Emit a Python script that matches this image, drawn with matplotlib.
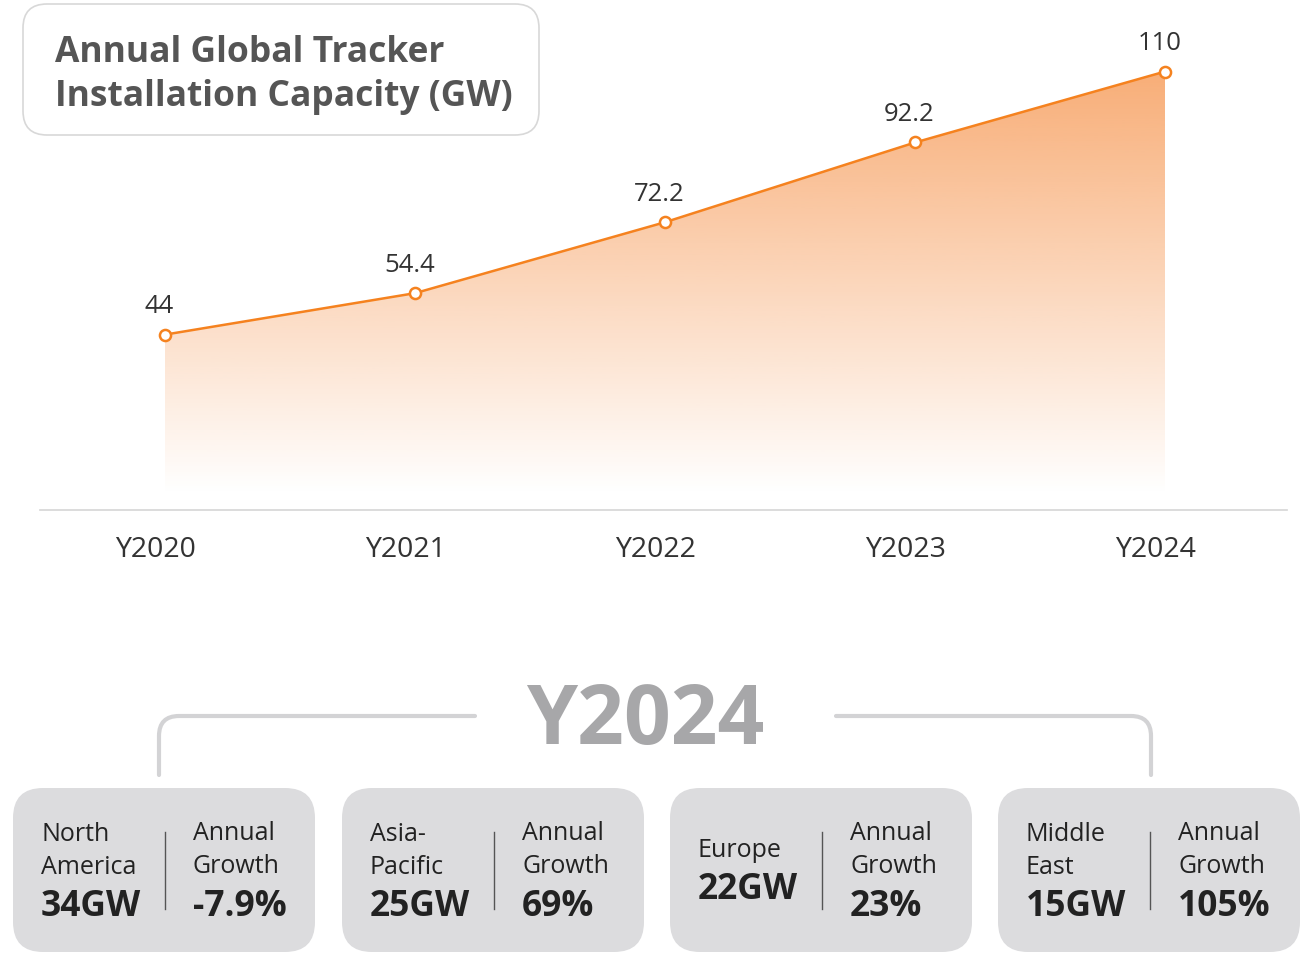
import numpy as np
import matplotlib.pyplot as plt
from matplotlib import font_manager
from matplotlib.patches import FancyBboxPatch, Polygon, PathPatch
from matplotlib.path import Path
from matplotlib.transforms import ScaledTranslation

# pick a sans family that really has a bold face installed
family = 'DejaVu Sans'
for cand in ['Noto Sans', 'Open Sans', 'Lato', 'Roboto', 'Inter']:
    try:
        f = font_manager.findfont(font_manager.FontProperties(family=cand, weight='bold'),
                                  fallback_to_default=False)
    except Exception:
        continue
    if 'bold' in f.lower():
        family = cand
        break
plt.rcParams['font.family'] = [family, 'DejaVu Sans']

# data
years = ['Y2020', 'Y2021', 'Y2022', 'Y2023', 'Y2024']
capacity = [44, 54.4, 72.2, 92.2, 110]
value_labels = ['44', '54.4', '72.2', '92.2', '110']

highlight_year = 'Y2024'
regions = ['North\nAmerica', 'Asia-\nPacific', 'Europe', 'Middle\nEast']
region_gw = ['34GW', '25GW', '22GW', '15GW']
region_growth = ['-7.9%', '69%', '23%', '105%']
growth_label = ['Annual', 'Growth']

ORANGE = '#F5821F'
W, H = 1302, 954
fig = plt.figure(figsize=(W / 100, H / 100), dpi=100)

# --- line chart (pixel based layout) ---
ax = fig.add_axes([40 / W, (H - 511) / H, 1247 / W, 511 / H])
x = np.arange(len(years))
ax.set_xlim(-0.5, 4.488)
ax.set_ylim(0, 128.2)

# gradient fill under the line
ymax = max(capacity)
yy = np.linspace(0, ymax, 300)
alpha = np.clip((yy - 4) / (ymax - 4), 0, 1) * 0.68
img = np.zeros((len(yy), 1, 4))
img[..., 0] = 245 / 255
img[..., 1] = 135 / 255
img[..., 2] = 55 / 255
img[..., 3] = alpha[:, None]
poly = Polygon(list(zip(x, capacity)) + [(x[-1], 0), (x[0], 0)], closed=True,
               fc='none', ec='none')
ax.add_patch(poly)
im = ax.imshow(img, extent=[x[0], x[-1], 0, ymax], origin='lower',
               aspect='auto', zorder=1)
im.set_clip_path(poly)

ax.plot(x, capacity, color=ORANGE, lw=1.8, marker='o', ms=8,
        mfc='white', mec=ORANGE, mew=1.8, zorder=3)

for xi, v, lab in zip(x, capacity, value_labels):
    ax.annotate(lab, (xi, v), xytext=(-4, 16), textcoords='offset points',
                ha='center', va='baseline', fontsize=18.5, color='#333333')

for s in ['top', 'right', 'left']:
    ax.spines[s].set_visible(False)
ax.spines['bottom'].set_color('#d5d5d5')
ax.spines['bottom'].set_linewidth(1.2)
ax.set_yticks([])
ax.set_xticks(x)
ax.set_xticklabels(years, fontsize=20.5, color='#333333')
ax.tick_params(axis='x', length=0, pad=18)
for lab in ax.get_xticklabels():
    lab.set_transform(lab.get_transform() + ScaledTranslation(-0.1, 0, fig.dpi_scale_trans))
ax.patch.set_alpha(0)

# --- overlay in pixel coordinates ---
bg = fig.add_axes([0, 0, 1, 1], zorder=5)
bg.set_xlim(0, W)
bg.set_ylim(H, 0)
bg.axis('off')
bg.patch.set_alpha(0)

# title box
bg.add_patch(FancyBboxPatch((23, 5), 516, 131, boxstyle='round,pad=0,rounding_size=24',
                            fc='white', ec='#d8d8d8', lw=1.2))
bg.text(55, 53, 'Annual Global Tracker', fontsize=25.5, weight='bold',
        color='#555555', va='center', ha='left')
bg.text(55, 97, 'Installation Capacity (GW)', fontsize=25.5, weight='bold',
        color='#555555', va='center', ha='left')

# highlighted year + bracket
bg.text(645, 723, highlight_year, fontsize=59, weight='bold', color='#a7a7a9',
        ha='center', va='center')
bracket_kw = dict(fc='none', ec='#d3d3d5', lw=3, capstyle='round')
left_path = Path([(475, 717), (179, 717), (159, 717), (159, 737), (159, 776)],
                 [Path.MOVETO, Path.LINETO, Path.CURVE3, Path.CURVE3, Path.LINETO])
right_path = Path([(836, 717), (1131, 717), (1151, 717), (1151, 737), (1151, 776)],
                  [Path.MOVETO, Path.LINETO, Path.CURVE3, Path.CURVE3, Path.LINETO])
bg.add_patch(PathPatch(left_path, **bracket_kw))
bg.add_patch(PathPatch(right_path, **bracket_kw))

# region cards
card_left = [13, 342, 670, 998]
for left, reg, gw, gr in zip(card_left, regions, region_gw, region_growth):
    bg.add_patch(FancyBboxPatch((left, 789), 302, 164,
                                boxstyle='round,pad=0,rounding_size=30',
                                fc='#dcdcde', ec='none'))
    bg.plot([left + 152, left + 152], [833, 910], color='#555555', lw=1)

    lines = reg.split('\n')
    n = len(lines)
    top = 869.5 - (33 * (n - 1) + 37.5) / 2
    for k, line in enumerate(lines):
        bg.text(left + 28, top + 33 * k, line, fontsize=18, color='#222222',
                va='center', ha='left')
    bg.text(left + 28, top + 33 * (n - 1) + 39.5, gw, fontsize=25.5, weight='bold',
            color='#222222', va='center', ha='left')

    for k, line in enumerate(growth_label):
        bg.text(left + 180, 834 + 33 * k, line, fontsize=18, color='#222222',
                va='center', ha='left')
    bg.text(left + 180, 907, gr, fontsize=25.5, weight='bold',
            color='#222222', va='center', ha='left')

fig.savefig('out.png', dpi=100, facecolor='white')
